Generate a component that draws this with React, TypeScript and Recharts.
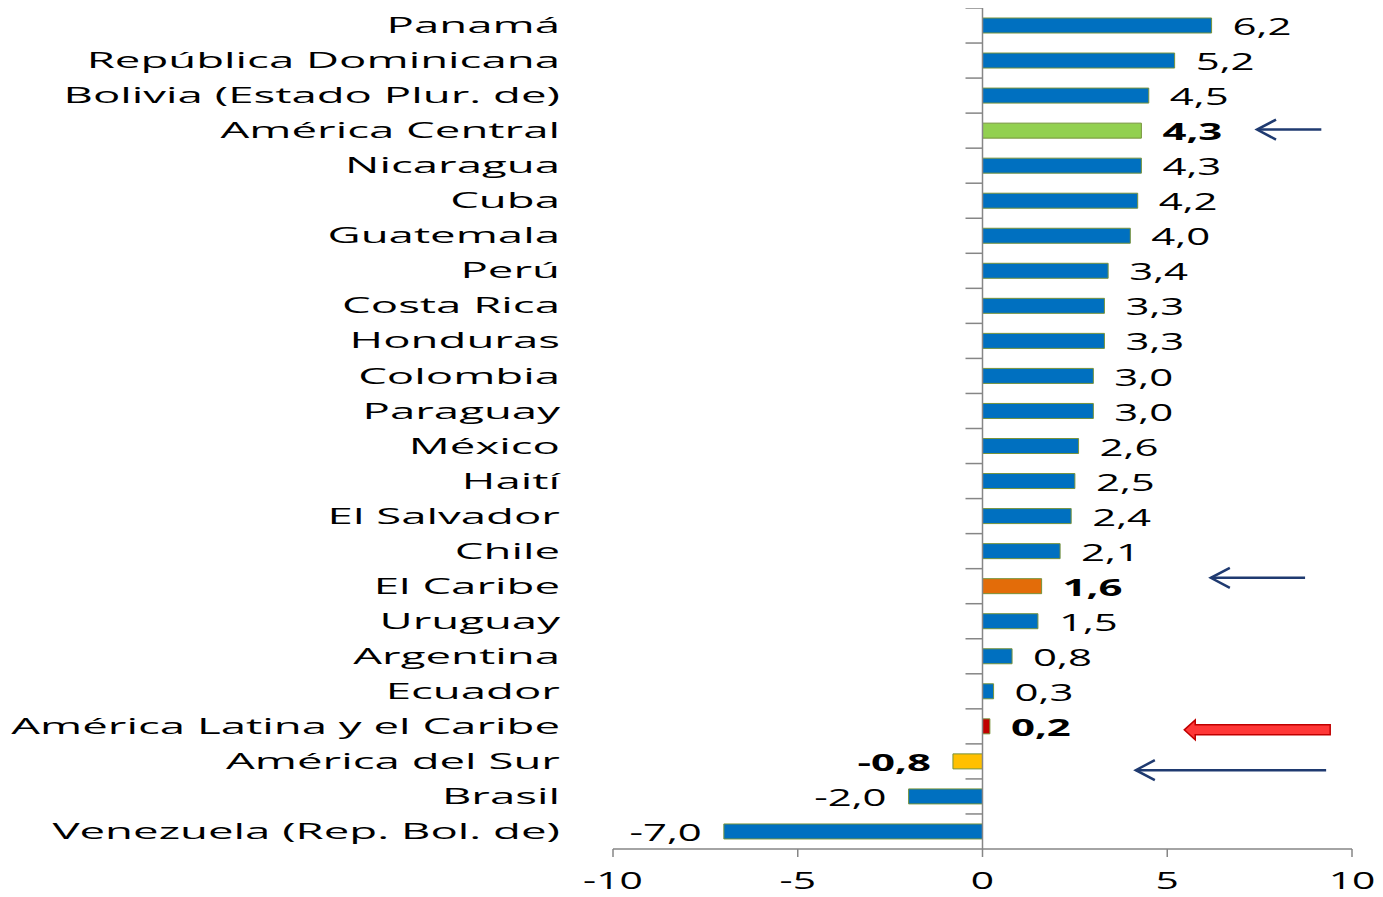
import { BarChart, Bar, XAxis, YAxis, Cell, LabelList, ReferenceLine } from 'recharts'

const countries = [
  'Panamá',
  'República Dominicana',
  'Bolivia (Estado  Plur. de)',
  'América Central',
  'Nicaragua',
  'Cuba',
  'Guatemala',
  'Perú',
  'Costa Rica',
  'Honduras',
  'Colombia',
  'Paraguay',
  'México',
  'Haití',
  'El Salvador',
  'Chile',
  'El Caribe',
  'Uruguay',
  'Argentina',
  'Ecuador',
  'América Latina y el Caribe',
  'América del Sur',
  'Brasil',
  'Venezuela (Rep. Bol. de)',
]

const growth = [6.2, 5.2, 4.5, 4.3, 4.3, 4.2, 4.0, 3.4, 3.3, 3.3, 3.0, 3.0, 2.6, 2.5, 2.4, 2.1, 1.6, 1.5, 0.8, 0.3, 0.2, -0.8, -2.0, -7.0]

const xTicks = [-10, -5, 0, 5, 10]

// aggregate rows get their own colour and a bold label
const highlight: Record<string, string> = {
  'América Central': '#92D050',
  'El Caribe': '#E36C09',
  'América Latina y el Caribe': '#C00000',
  'América del Sur': '#FFC000',
}

// arrows pointing at the aggregates (row, shift in bands, tail x, head x)
const arrows = [
  { row: 'América Central', shift: -0.03, from: 9.17, to: 7.43, kind: 'line' },
  { row: 'El Caribe', shift: -0.24, from: 8.73, to: 6.18, kind: 'line' },
  { row: 'América Latina y el Caribe', shift: 0.1, from: 9.41, to: 5.46, kind: 'block' },
  { row: 'América del Sur', shift: 0.25, from: 9.3, to: 4.15, kind: 'line' },
]

const data = countries.map((name, i) => ({ name, value: growth[i] }))

const FONT = '"Open Sans", sans-serif'
const AXIS = '#868686'
const NAVY = '#1F3A70'

const CHART_W = 1375
const CHART_H = 889
const MARGIN = { top: 0, right: 31, bottom: 0, left: 0 }
const XAXIS_H = 48
const BAND = (CHART_H - MARGIN.top - MARGIN.bottom - XAXIS_H) / countries.length

const fmt = (v: number) => v.toFixed(1).replace('.', ',')

function CountryTick({ x, y, payload }: any) {
  return (
    <g transform={`translate(${x},${y})`}>
      <text transform="scale(2.17,1)" textAnchor="end" dy="0.36em" fontSize={21} fontFamily={FONT} fill="#000">
        {payload.value}
      </text>
    </g>
  )
}

function ValueTick({ x, y, payload }: any) {
  return (
    <g transform={`translate(${x},${y})`}>
      <text transform="scale(1.7,1)" textAnchor="middle" dy="0.71em" fontSize={24} fontFamily={FONT} fill="#000">
        {payload.value}
      </text>
    </g>
  )
}

function ValueLabel({ x, y, width, height, value, index }: any) {
  const left = Math.min(x, x + width)
  const right = Math.max(x, x + width)
  const neg = value < 0
  const tx = neg ? left - 22 : right + 21
  const bold = highlight[countries[index]] !== undefined
  return (
    <g transform={`translate(${tx},${y + height / 2})`}>
      <text
        transform="scale(1.75,1)"
        textAnchor={neg ? 'end' : 'start'}
        dy="0.4em"
        fontSize={24}
        fontWeight={bold ? 700 : 400}
        fontFamily={FONT}
        fill="#000"
      >
        {fmt(value)}
      </text>
    </g>
  )
}

// small tick on the zero line, drawn on the upper edge of each category band
function BandTick({ x1, y1, x2 }: any) {
  if (x1 == null) return null
  const yy = y1 - BAND / 2
  return <line x1={x1} y1={yy} x2={x2} y2={yy} stroke={AXIS} strokeWidth={1.5} />
}

function ArrowShape(props: any) {
  const { x1, y1, x2, kind, shift } = props
  if (x1 == null) return null
  const yy = y1 + shift * BAND
  if (kind === 'block') {
    const neck = x2 + 11
    const d = `M${x2},${yy} L${neck},${yy - 10} L${neck},${yy - 5} L${x1},${yy - 5} L${x1},${yy + 5} L${neck},${yy + 5} L${neck},${yy + 10} Z`
    return <path d={d} fill="#FF3737" stroke="#C00000" strokeWidth={1.5} />
  }
  return (
    <g stroke={NAVY} strokeWidth={2.5} fill="none">
      <line x1={x1} y1={yy} x2={x2} y2={yy} />
      <polyline points={`${x2 + 19},${yy - 10} ${x2},${yy} ${x2 + 19},${yy + 10}`} />
    </g>
  )
}

export default function App() {
  return (
    <BarChart width={CHART_W} height={CHART_H} data={data} layout="vertical" margin={MARGIN}>
      <XAxis
        type="number"
        domain={[-10, 10]}
        ticks={xTicks}
        height={XAXIS_H}
        tickSize={8}
        tickMargin={15}
        axisLine={{ stroke: AXIS, strokeWidth: 1.5 }}
        tickLine={{ stroke: AXIS, strokeWidth: 1.5 }}
        tick={<ValueTick />}
      />
      <YAxis
        type="category"
        dataKey="name"
        width={605}
        interval={0}
        tickSize={0}
        tickMargin={53}
        axisLine={false}
        tickLine={false}
        tick={<CountryTick />}
      />
      <ReferenceLine x={0} stroke={AXIS} strokeWidth={1.5} />
      {countries.map((c) => (
        <ReferenceLine key={`tick-${c}`} segment={[{ x: -0.46, y: c }, { x: 0, y: c }]} shape={<BandTick />} />
      ))}
      <Bar dataKey="value" barSize={15} stroke="#77933C" strokeWidth={1} isAnimationActive={false}>
        {data.map((d, i) => (
          <Cell key={`cell-${i}`} fill={highlight[d.name] ?? '#0070C0'} />
        ))}
        <LabelList dataKey="value" content={<ValueLabel />} />
      </Bar>
      {arrows.map((a) => (
        <ReferenceLine
          key={`arrow-${a.row}`}
          segment={[{ x: a.from, y: a.row }, { x: a.to, y: a.row }]}
          shape={(p: any) => <ArrowShape {...p} kind={a.kind} shift={a.shift} />}
        />
      ))}
    </BarChart>
  )
}
